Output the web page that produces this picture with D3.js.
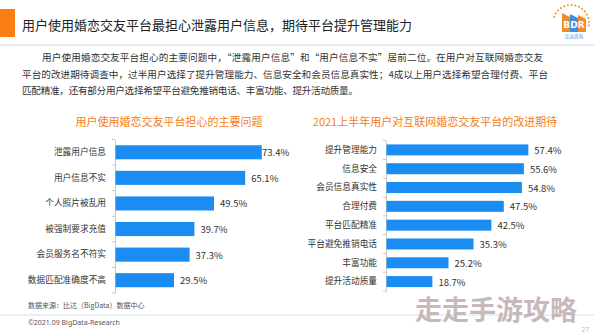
<!DOCTYPE html>
<html><head><meta charset="utf-8">
<script src="https://cdn.jsdelivr.net/npm/d3@7"></script>
<style>
html,body{margin:0;padding:0;background:#fff;}
svg{display:block;font-family:"Noto Sans CJK SC","Noto Sans",sans-serif;}
</style></head>
<body>
<script>
// ---------- data ----------
const pageTitle = "用户使用婚恋交友平台最担心泄露用户信息，期待平台提升管理能力";
const paragraphLines = [
  "用户使用婚恋交友平台担心的主要问题中，“泄露用户信息”和“用户信息不实”居前二位。在用户对互联网婚恋交友",
  "平台的改进期待调查中，过半用户选择了提升管理能力、信息安全和会员信息真实性；4成以上用户选择希望合理付费、平台",
  "匹配精准，还有部分用户选择希望平台避免推销电话、丰富功能、提升活动质量。"
];
const leftTitle = "用户使用婚恋交友平台担心的主要问题";
const leftCategories = ["泄露用户信息","用户信息不实","个人照片被乱用","被强制要求充值","会员服务名不符实","数据匹配准确度不高"];
const leftValues = [73.4, 65.1, 49.5, 39.7, 37.3, 29.5];
const rightTitle = "2021上半年用户对互联网婚恋交友平台的改进期待";
const rightCategories = ["提升管理能力","信息安全","会员信息真实性","合理付费","平台匹配精准","平台避免推销电话","丰富功能","提升活动质量"];
const rightValues = [57.4, 55.6, 54.8, 47.5, 42.5, 35.3, 25.2, 18.7];
const sourceText = "数据来源：比达（BigData）数据中心";
const copyrightText = "©2021.09 BigData-Research";
const pageNumber = "27";
const watermark = "走走手游攻略";

// ---------- drawing ----------
const W = 594, H = 333;
const svg = d3.select("body").append("svg").attr("width", W).attr("height", H);
const BAR = "#1b8df2", ORANGE = "#f47d20", TXT = "#333";

// header
svg.append("rect").attr("x",0).attr("y",9).attr("width",15).attr("height",28).attr("fill","#fb7e14");
svg.append("text").attr("x",22).attr("y",24).attr("dominant-baseline","central")
  .attr("font-size",13).attr("fill","#222").text(pageTitle);
svg.append("rect").attr("x",0).attr("y",44).attr("width",W).attr("height",2).attr("fill","#e4edf4");

// logo
const logo = svg.append("g");
const lc = [571, 23], lr = 18;
d3.range(0, 15).forEach(i => {
  const a = (200 + i * 12) * Math.PI / 180;
  logo.append("circle").attr("cx", lc[0] + lr*Math.cos(a)).attr("cy", lc[1] + lr*Math.sin(a))
    .attr("r", 1.1).attr("fill", "#f39a3c");
});
[[562,"#f08a2a"],[570,"#3f8fe0"],[578,"#f08a2a"]].forEach(([x,c],i) => {
  logo.append("path").attr("d", `M${x},32 L${x},${13+i} L${x+8},${17+i} L${x+8},32 Z`).attr("fill", c);
});
logo.append("text").attr("x",574).attr("y",28).attr("text-anchor","middle")
  .attr("font-size",9).attr("font-weight","bold").attr("fill","#fff").attr("font-family","DejaVu Sans").text("BDR");
logo.append("text").attr("x",574).attr("y",37.5).attr("text-anchor","middle")
  .attr("font-size",4.5).attr("fill","#3f8fe0").text("比达咨询");

// paragraph
const pStarts = [42, 22, 22], pEnds = [543, 548, 358], pY = [57, 74, 90];
paragraphLines.forEach((l, i) => {
  svg.append("text").attr("x", pStarts[i]).attr("y", pY[i]).attr("dominant-baseline","central")
    .attr("font-size", 9.6).attr("fill", TXT)
    .attr("textLength", pEnds[i] - pStarts[i]).attr("lengthAdjust","spacing").text(l);
});

function barChart(opts) {
  const {cats, vals, title, titleX, axisX, xMax, xRangeEnd, yRange, pad, labelLimit} = opts;
  const g = svg.append("g");
  g.append("text").attr("x", titleX).attr("y", 121).attr("text-anchor","middle").attr("dominant-baseline","central")
    .attr("font-size", 11).attr("fill", ORANGE).text(title);
  const x = d3.scaleLinear().domain([0, xMax]).range([axisX, xRangeEnd]);
  const y = d3.scaleBand().domain(cats).range(yRange).paddingInner(pad).paddingOuter(pad/2);
  const ax = g.append("g").attr("transform", `translate(${axisX},0)`)
    .call(d3.axisLeft(y).tickSize(0).tickSizeOuter(0).tickPadding(9));
  ax.select(".domain").attr("stroke", "#c8c8c8");
  ax.selectAll(".tick text").attr("font-size", 8.7).attr("fill", TXT)
    .attr("font-family", '"Noto Sans CJK SC",sans-serif');
  // boundary ticks
  const bounds = d3.range(cats.length + 1).map(i => yRange[0] + i * y.step());
  g.selectAll("line.bt").data(bounds).join("line").attr("class","bt")
    .attr("x1", axisX - 3).attr("x2", axisX).attr("y1", d => d).attr("y2", d => d)
    .attr("stroke", "#c8c8c8");
  g.selectAll("rect.bar").data(cats).join("rect").attr("class","bar")
    .attr("x", axisX + 0.5).attr("y", d => y(d)).attr("height", y.bandwidth())
    .attr("width", (d, i) => x(vals[i]) - axisX - 0.5).attr("fill", BAR);
  g.selectAll("text.val").data(cats).join("text").attr("class","val")
    .attr("x", (d, i) => Math.min(x(vals[i]) + 6, labelLimit))
    .attr("y", d => y(d) + y.bandwidth()/2).attr("dominant-baseline","central")
    .attr("font-size", 9.5).attr("fill", TXT)
    .text((d, i) => vals[i].toFixed(1) + "%");
}

barChart({cats: leftCategories, vals: leftValues, title: leftTitle, titleX: 169,
  axisX: 115, xMax: 100, xRangeEnd: 315, yRange: [139.5, 293], pad: 0.45, labelLimit: 262});
barChart({cats: rightCategories, vals: rightValues, title: rightTitle, titleX: 435,
  axisX: 386, xMax: 80, xRangeEnd: 584.4, yRange: [140.5, 291], pad: 0.415, labelLimit: 600});

// footer
svg.append("text").attr("x",28).attr("y",305).attr("dominant-baseline","central")
  .attr("font-size",7).attr("fill","#555").text(sourceText);
svg.append("rect").attr("x",0).attr("y",314.5).attr("width",W).attr("height",1).attr("fill","#cfdff0");
svg.append("text").attr("x",28).attr("y",322.5).attr("dominant-baseline","central")
  .attr("font-size",7).attr("fill","#555").attr("font-family","Noto Sans, sans-serif").text(copyrightText);
svg.append("text").attr("x",589).attr("y",329).attr("text-anchor","end").attr("dominant-baseline","central")
  .attr("font-size",6.5).attr("fill","#bbb").attr("font-family","Noto Sans, sans-serif").text(pageNumber);

// watermark
svg.append("text").attr("x",415).attr("y",308.5).attr("dominant-baseline","central")
  .attr("font-size",27).attr("font-weight","bold").attr("fill","#c2b2b2").attr("fill-opacity",0.92)
  .text(watermark);
</script>
</body></html>
